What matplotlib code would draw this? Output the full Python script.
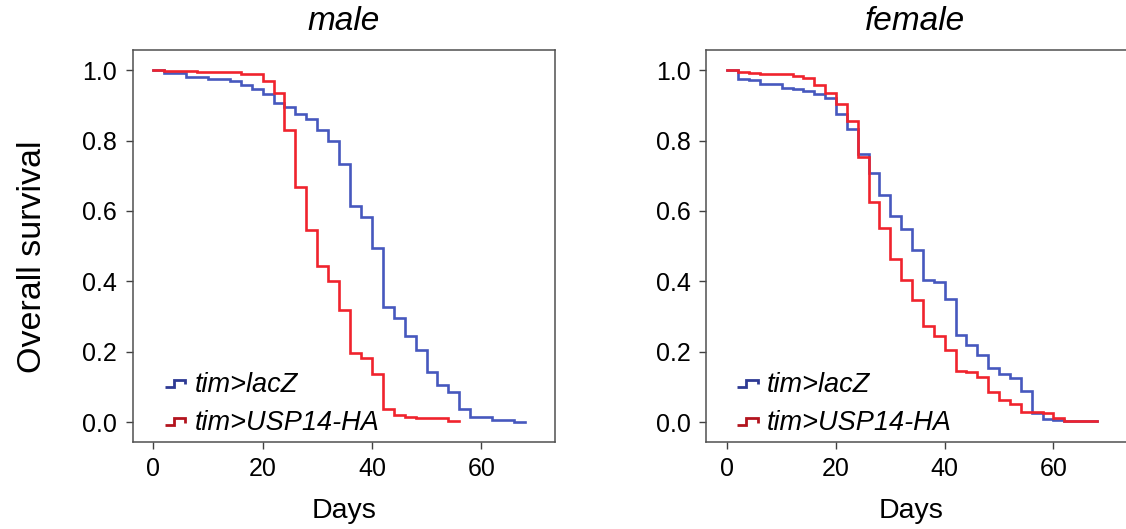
import matplotlib
matplotlib.use("Agg")
import matplotlib.pyplot as plt
from matplotlib.legend_handler import HandlerBase
from matplotlib.lines import Line2D

plt.rcParams['font.family'] = ['Liberation Sans', 'DejaVu Sans']

# ---------------- data ----------------
male_lacz_days = [0, 2, 6, 10, 14, 16, 18, 20, 22, 24, 26, 28, 30, 32, 34, 36, 38, 40,
                  42, 44, 46, 48, 50, 52, 54, 56, 58, 62, 66, 68]
male_lacz_surv = [1.0, 0.991, 0.981, 0.975, 0.969, 0.957, 0.947, 0.931, 0.907, 0.895, 0.874,
                  0.860, 0.829, 0.799, 0.733, 0.615, 0.582, 0.494, 0.327, 0.295, 0.244, 0.206,
                  0.142, 0.105, 0.086, 0.039, 0.015, 0.006, 0.001, 0.001]

male_usp_days = [0, 2, 8, 16, 20, 22, 24, 26, 28, 30, 32, 34, 36, 38, 40, 42, 44, 46, 48, 54, 56]
male_usp_surv = [1.0, 0.997, 0.994, 0.990, 0.968, 0.935, 0.829, 0.669, 0.546, 0.445, 0.400,
                 0.319, 0.197, 0.182, 0.138, 0.039, 0.022, 0.015, 0.011, 0.003, 0.003]

female_lacz_days = [0, 2, 4, 6, 10, 12, 14, 16, 18, 20, 22, 24, 26, 28, 30, 32, 34, 36, 38,
                    40, 42, 44, 46, 48, 50, 52, 54, 56, 58, 60, 62, 68]
female_lacz_surv = [1.0, 0.976, 0.971, 0.961, 0.950, 0.945, 0.940, 0.931, 0.920, 0.874, 0.832,
                    0.761, 0.709, 0.645, 0.586, 0.550, 0.489, 0.404, 0.397, 0.350, 0.248, 0.220,
                    0.192, 0.154, 0.138, 0.126, 0.089, 0.025, 0.010, 0.006, 0.003, 0.003]

female_usp_days = [0, 2, 4, 6, 12, 14, 16, 18, 20, 22, 24, 26, 28, 30, 32, 34, 36, 38, 40,
                   42, 44, 46, 48, 50, 52, 54, 58, 60, 62, 68]
female_usp_surv = [1.0, 0.995, 0.991, 0.988, 0.983, 0.978, 0.958, 0.934, 0.905, 0.856, 0.754,
                   0.626, 0.553, 0.465, 0.404, 0.348, 0.272, 0.246, 0.204, 0.147, 0.142, 0.129,
                   0.086, 0.062, 0.053, 0.029, 0.025, 0.012, 0.004, 0.004]

panel_titles = ["male", "female"]
series_labels = ["tim>lacZ", "tim>USP14-HA"]
x_ticks = [0, 20, 40, 60]
y_ticks = [0.0, 0.2, 0.4, 0.6, 0.8, 1.0]

line_colors = ["#4658be", "#f0232d"]
handle_colors = ["#2e3a94", "#b3141e"]


class StepHandler(HandlerBase):
    def create_artists(self, legend, orig_handle, xdescent, ydescent, width, height,
                       fontsize, trans):
        x0 = -xdescent
        y0 = -ydescent
        xs = [x0, x0 + 0.45 * width, x0 + 0.45 * width, x0 + width, x0 + width]
        ys = [y0 + 0.25 * height, y0 + 0.25 * height, y0 + 0.65 * height, y0 + 0.65 * height,
              y0 + 0.4 * height]
        ln = Line2D(xs, ys, color=orig_handle.get_color(), lw=2.0,
                    solid_joinstyle='miter', solid_capstyle='butt', transform=trans)
        return [ln]


W, H = 1126, 529
fig = plt.figure(figsize=(W / 100, H / 100), dpi=100)

ax_h = (442 - 50) / H
ax_b = (H - 442) / H
f_left, f_right = 705.7, 1145
axes = [fig.add_axes([132.5 / W, ax_b, (555 - 132.5) / W, ax_h]),
        fig.add_axes([f_left / W, ax_b, (f_right - f_left) / W, ax_h])]
xlims = [(-3.8, 73.5), (-3.97, (f_right - 727.3) / 5.435)]
xlabel_x = [0.5, (911 - f_left) / (f_right - f_left)]

data = [
    [(male_lacz_days, male_lacz_surv), (male_usp_days, male_usp_surv)],
    [(female_lacz_days, female_lacz_surv), (female_usp_days, female_usp_surv)],
]

for i, ax in enumerate(axes):
    for j, (d, s) in enumerate(data[i]):
        ax.step(d, s, where='post', color=line_colors[j], lw=1.9, solid_joinstyle='miter')
    ax.set_xlim(*xlims[i])
    ax.set_ylim(-0.056, 1.057)
    ax.set_xticks(x_ticks)
    ax.set_yticks(y_ticks)
    ax.set_yticklabels([f"{v:.1f}" for v in y_ticks])
    ax.tick_params(direction='out', length=5, width=1.0, color='#404040',
                   labelsize=18, pad=6)
    for sp in ax.spines.values():
        sp.set_color('#505050')
        sp.set_linewidth(1.1)
    ax.set_xlabel("Days", fontsize=20.5)
    ax.xaxis.set_label_coords(xlabel_x[i], -0.143)

    handles = [Line2D([], [], color=handle_colors[j]) for j in range(2)]
    ax.legend(handles, series_labels, handler_map={Line2D: StepHandler()},
              loc='lower left',
              bbox_to_anchor=(0.077 if i == 0 else 0.072, 0.015), frameon=False,
              prop={'style': 'italic', 'size': 19.5}, handlelength=0.75,
              handletextpad=0.35, labelspacing=0.45, borderpad=0, borderaxespad=0)

fig.text((132.5 + 555) / 2 / W, 1 - 22 / H, panel_titles[0], fontsize=24, style='italic',
         ha='center', va='center')
fig.text(915 / W, 1 - 22 / H, panel_titles[1], fontsize=24, style='italic',
         ha='center', va='center')
fig.text(33 / W, 1 - 257 / H, "Overall survival", fontsize=24.5, rotation=90,
         ha='center', va='center')

fig.savefig("out.png", dpi=100)
